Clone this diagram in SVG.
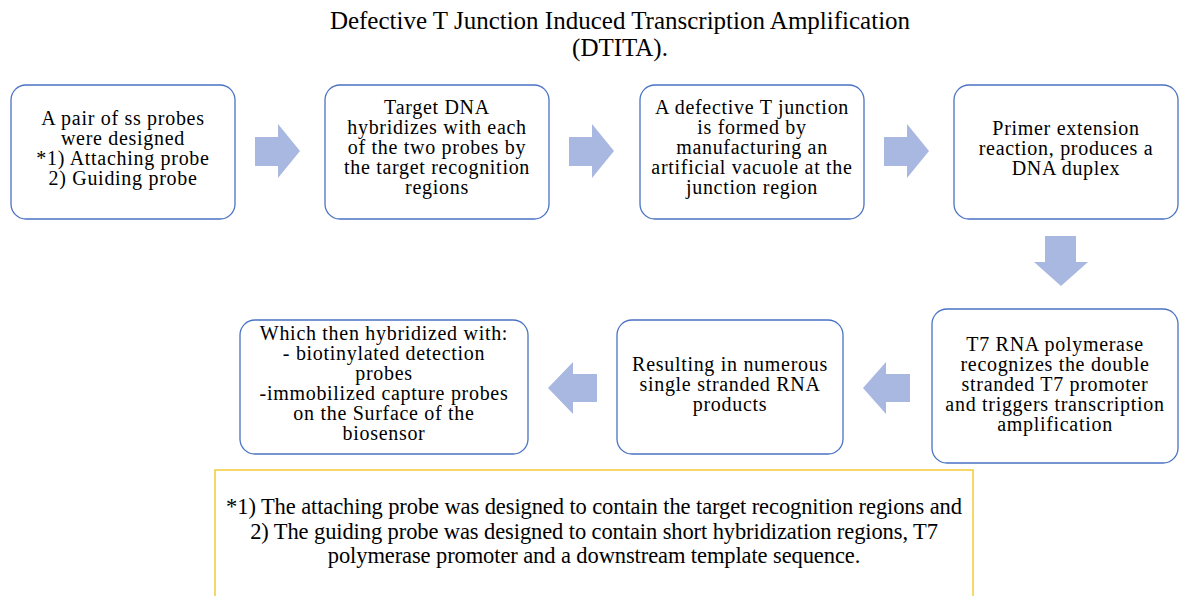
<svg xmlns="http://www.w3.org/2000/svg" width="1179" height="596" viewBox="0 0 1179 596">
<defs>
<style>
text{font-family:'Liberation Serif','Times New Roman',serif;fill:#000;text-anchor:middle}
.t{font-size:20px;letter-spacing:0.7px}
.n{font-size:22.5px;letter-spacing:-0.1px}
.ttl{font-size:25px}
.box{fill:#fff;stroke:#4a72c4;stroke-width:1.3}
.arr{fill:#a9b8e0}
.note{fill:#fff;stroke:#f2c31a;stroke-width:1.3}
</style>
</defs>
<rect width="1179" height="596" fill="#fff"/>
<g id="title">
<text class="ttl" x="620" y="29">Defective T Junction Induced Transcription Amplification</text>
<text class="ttl" x="620" y="56">(DTITA).</text>
</g>
<g id="connectors">
<polygon class="arr" points="255,137 278,137 278,124 300,151 278,178 278,166 255,166"/>
<polygon class="arr" points="569,137 592,137 592,124 614,151 592,178 592,166 569,166"/>
<polygon class="arr" points="884,137 907,137 907,124 929,151 907,178 907,166 884,166"/>
<polygon class="arr" points="1045,236 1076,236 1076,262 1088,262 1061,286 1034,262 1045,262"/>
<polygon class="arr" points="910,374 886,374 886,362 863,388 886,414 886,402 910,402"/>
<polygon class="arr" points="597,374 573,374 573,362 548,388 573,414 573,402 597,402"/>
</g>
<g id="node1">
<rect class="box" x="11" y="85" width="224" height="134" rx="15"/>
<text class="t" x="123" y="125">A pair of ss probes</text>
<text class="t" x="123" y="145">were designed</text>
<text class="t" x="123" y="165">*1) Attaching probe</text>
<text class="t" x="123" y="185">2) Guiding probe</text>
</g>
<g id="node2">
<rect class="box" x="325" y="85" width="224" height="134" rx="15"/>
<text class="t" x="437" y="114">Target DNA</text>
<text class="t" x="437" y="134">hybridizes with each</text>
<text class="t" x="437" y="154">of the two probes by</text>
<text class="t" x="437" y="174">the target recognition</text>
<text class="t" x="437" y="194">regions</text>
</g>
<g id="node3">
<rect class="box" x="640" y="85" width="224" height="134" rx="15"/>
<text class="t" x="752" y="114">A defective T junction</text>
<text class="t" x="752" y="134">is formed by</text>
<text class="t" x="752" y="154">manufacturing an</text>
<text class="t" x="752" y="174">artificial vacuole at the</text>
<text class="t" x="752" y="194">junction region</text>
</g>
<g id="node4">
<rect class="box" x="954" y="85" width="224" height="134" rx="15"/>
<text class="t" x="1066" y="135">Primer extension</text>
<text class="t" x="1066" y="155">reaction, produces a</text>
<text class="t" x="1066" y="175">DNA duplex</text>
</g>
<g id="node5">
<rect class="box" x="932" y="309" width="246" height="154" rx="15"/>
<text class="t" x="1055" y="351">T7 RNA polymerase</text>
<text class="t" x="1055" y="371">recognizes the double</text>
<text class="t" x="1055" y="391">stranded T7 promoter</text>
<text class="t" x="1055" y="411">and triggers transcription</text>
<text class="t" x="1055" y="431">amplification</text>
</g>
<g id="node6">
<rect class="box" x="617" y="320" width="226" height="134" rx="15"/>
<text class="t" x="730" y="371">Resulting in numerous</text>
<text class="t" x="730" y="391">single stranded RNA</text>
<text class="t" x="730" y="411">products</text>
</g>
<g id="node7">
<rect class="box" x="240" y="320" width="288" height="134" rx="15"/>
<text class="t" x="384" y="340">Which then hybridized with:</text>
<text class="t" x="384" y="360">- biotinylated detection</text>
<text class="t" x="384" y="380">probes</text>
<text class="t" x="384" y="400">-immobilized capture probes</text>
<text class="t" x="384" y="420">on the Surface of the</text>
<text class="t" x="384" y="440">biosensor</text>
</g>
<g id="note">
<rect class="note" x="215" y="470" width="758" height="140"/>
<text class="n" x="594" y="514">*1) The attaching probe was designed to contain the target recognition regions and</text>
<text class="n" x="594" y="539">2) The guiding probe was designed to contain short hybridization regions, T7</text>
<text class="n" x="594" y="563">polymerase promoter and a downstream template sequence.</text>
</g>
</svg>
